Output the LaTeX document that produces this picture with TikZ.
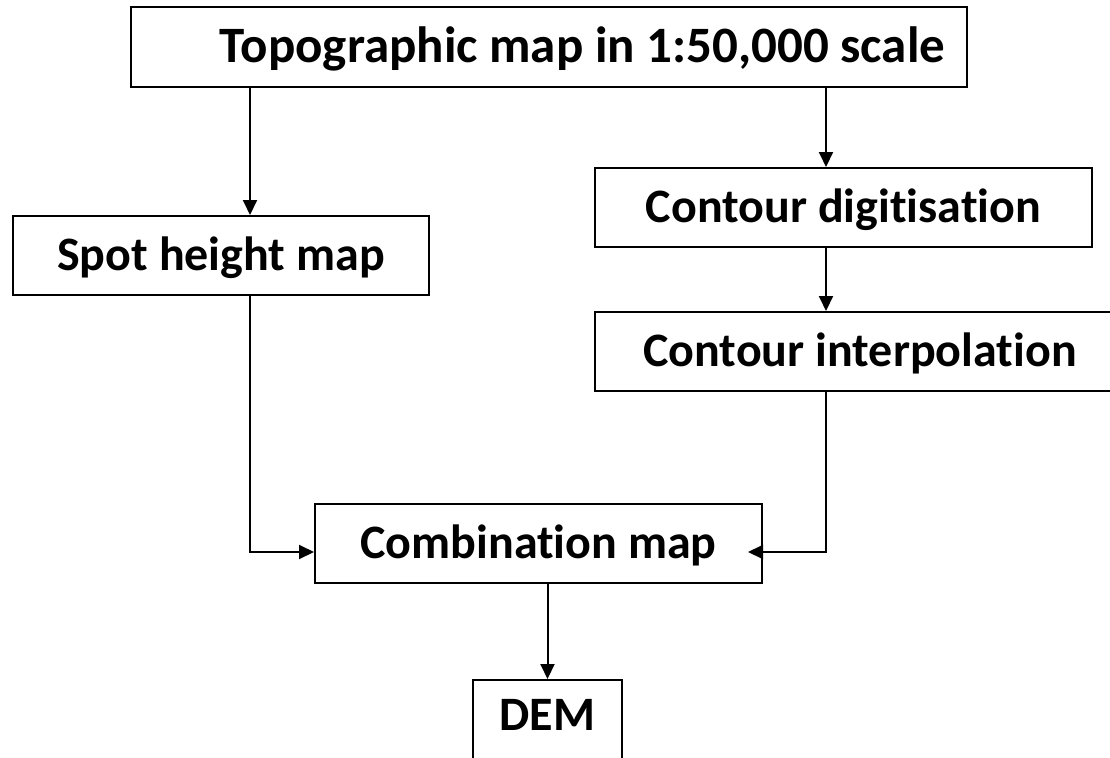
\documentclass[tikz,border=0pt]{standalone}
\usepackage{fontspec}
\setmainfont{Carlito}[RawFeature=-liga]
\usetikzlibrary{arrows.meta}
\begin{document}
\begin{tikzpicture}[x=1pt,y=-1pt,
  box/.style={draw, line width=2pt, font=\bfseries\fontsize{48}{52}\selectfont,
    inner sep=0pt, text height=31pt, text depth=1pt, minimum height=79pt},
  arr/.style={line width=2pt, -{Triangle[length=15pt,width=14pt]}}]
\useasboundingbox (0,0) rectangle (1110,757);
\fill[white] (0,0) rectangle (1110,757);
\coordinate (xl) at (250,0);
\coordinate (xr) at (826,0);
\coordinate (yj) at (0,552);
\node[box, font=\bfseries\fontsize{51}{55}\selectfont, text height=33pt, minimum width=836pt, minimum height=80pt] (top) at (549,47) {\makebox[792pt][r]{Topographic map in 1:50,000 scale}\hspace{0pt}};
\node[box, minimum width=416pt] (spot) at (221,255.5) {Spot height map};
\node[box, minimum width=497pt] (digit) at (843.5,207.5) {Contour digitisation};
\node[box, minimum width=530pt] (interp) at (860,351.5) {Contour interpolation};
\node[box, minimum width=447pt] (comb) at (538.5,543.5) {Combination map};
\node[box, minimum width=149pt, minimum height=0pt, text height=50pt, text depth=70pt, anchor=north] (dem) at (547.5,679) {DEM};
\draw[arr] (top.south -| xl) -- (spot.north -| xl);
\draw[arr] (top.south -| xr) -- (digit.north -| xr);
\draw[arr] (digit.south -| xr) -- (interp.north -| xr);
\draw[arr] (spot.south -| xl) |- (comb.west |- yj);
\draw[arr, shorten >=-15pt] (interp.south -| xr) |- (comb.east |- yj);
\draw[arr] (comb.south -| dem.north) -- (dem.north);
\end{tikzpicture}
\end{document}
